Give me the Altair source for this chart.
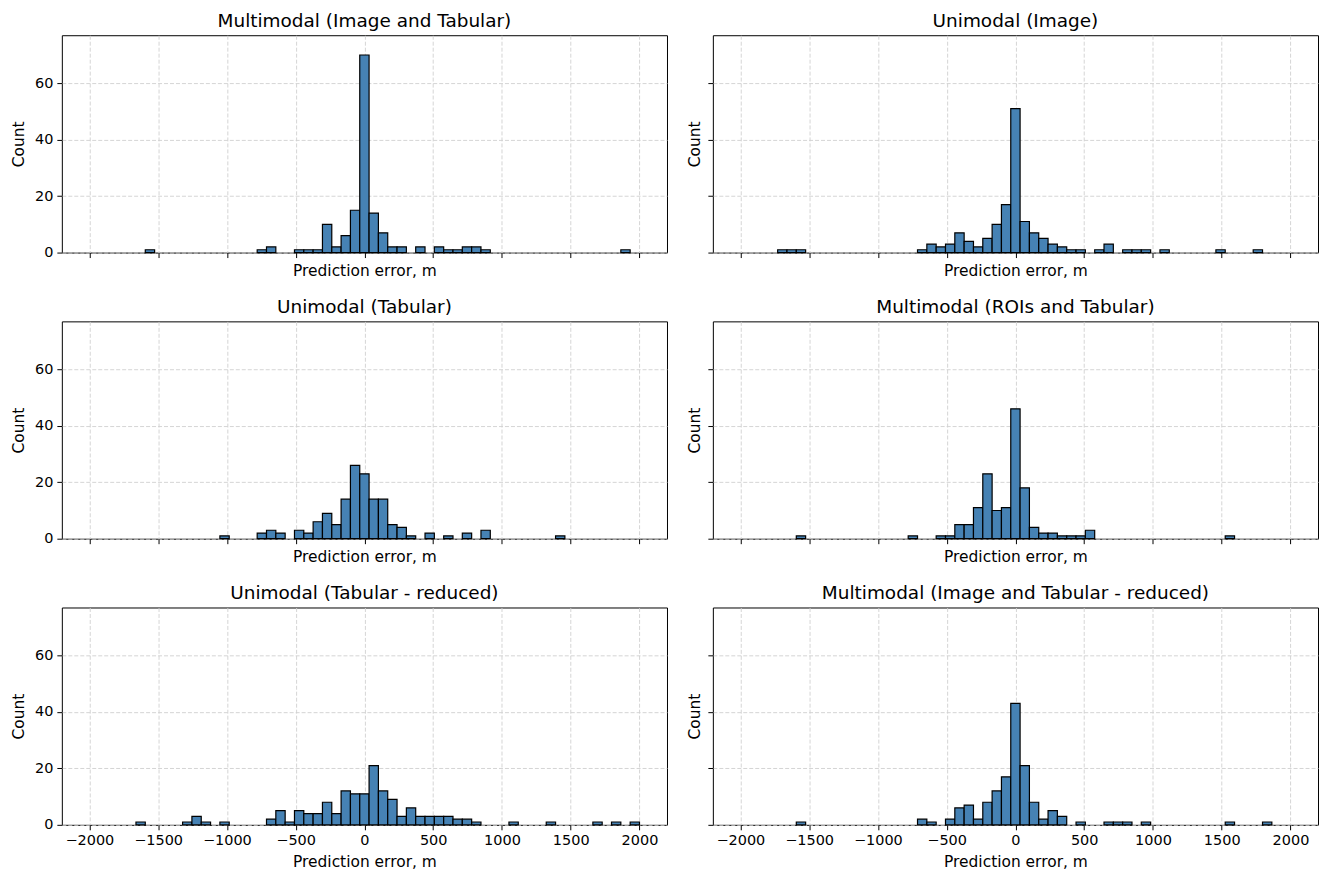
import altair as alt
import pandas as pd

# Histogram binning shared by all panels: 59 equal bins over [-2000, 2000] m
N_BINS = 59
X_MIN, X_MAX = -2000, 2000
CENTER = 29  # index of the bin centred on 0 m
X_TICKS = [-2000, -1500, -1000, -500, 0, 500, 1000, 1500, 2000]
Y_TICKS = [0, 20, 40, 60]

TITLES = [
    "Multimodal (Image and Tabular)",
    "Unimodal (Image)",
    "Unimodal (Tabular)",
    "Multimodal (ROIs and Tabular)",
    "Unimodal (Tabular - reduced)",
    "Multimodal (Image and Tabular - reduced)",
]

# bin offsets relative to the centre bin, and the counts in those bins
P1_BINS = [-23, -11, -10, -7, -6, -5, -4, -3, -2, -1, 0, 1, 2, 3, 4, 6, 8, 9, 10, 11, 12, 13, 28]
P1_COUNTS = [1, 1, 2, 1, 1, 1, 10, 2, 6, 15, 70, 14, 7, 2, 2, 2, 2, 1, 1, 2, 2, 1, 1]

P2_BINS = [-25, -24, -23, -10, -9, -8, -7, -6, -5, -4, -3, -2, -1, 0, 1, 2, 3, 4, 5, 6, 7, 9, 10, 12, 13, 14, 16, 22, 26]
P2_COUNTS = [1, 1, 1, 1, 3, 2, 3, 7, 4, 2, 5, 10, 17, 51, 11, 7, 5, 3, 2, 1, 1, 1, 3, 1, 1, 1, 1, 1, 1]

P3_BINS = [-15, -11, -10, -9, -7, -6, -5, -4, -3, -2, -1, 0, 1, 2, 3, 4, 5, 7, 9, 11, 13, 21]
P3_COUNTS = [1, 2, 3, 2, 3, 2, 6, 9, 5, 14, 26, 23, 14, 14, 5, 4, 1, 2, 1, 2, 3, 1]

P4_BINS = [-23, -11, -8, -7, -6, -5, -4, -3, -2, -1, 0, 1, 2, 3, 4, 5, 6, 7, 8, 23]
P4_COUNTS = [1, 1, 1, 1, 5, 5, 11, 23, 10, 11, 46, 18, 4, 2, 2, 1, 1, 1, 3, 1]

P5_BINS = [-24, -19, -18, -17, -15, -10, -9, -8, -7, -6, -5, -4, -3, -2, -1, 0, 1, 2, 3, 4, 5, 6, 7, 8, 9, 10, 11, 12, 16, 20, 25, 27, 29]
P5_COUNTS = [1, 1, 3, 1, 1, 2, 5, 1, 5, 4, 4, 8, 4, 12, 11, 11, 21, 12, 9, 3, 6, 3, 3, 3, 3, 2, 2, 1, 1, 1, 1, 1, 1]

P6_BINS = [-23, -10, -9, -7, -6, -5, -4, -3, -2, -1, 0, 1, 2, 3, 4, 5, 7, 10, 11, 12, 14, 23, 27]
P6_COUNTS = [1, 2, 1, 2, 6, 7, 2, 8, 12, 17, 43, 21, 8, 2, 5, 3, 1, 1, 1, 1, 1, 1, 1]

BIN_W = (X_MAX - X_MIN) / N_BINS
FONT = "DejaVu Sans"
W, H = 607, 218


def panel(title, bins, counts, bottom, left):
    lo = [X_MIN + (b + CENTER) * BIN_W for b in bins]
    df = pd.DataFrame({"lo": lo, "hi": [v + BIN_W for v in lo], "count": counts})
    xaxis = alt.Axis(
        values=X_TICKS, labels=bottom, title="Prediction error, m",
        titlePadding=7 if bottom else 5, format="d",
    )
    yaxis = alt.Axis(
        values=Y_TICKS, labels=left, title="Count",
        titlePadding=8 if left else 5,
    )
    return (
        alt.Chart(df)
        .mark_bar(color="#4682B4", stroke="black", strokeWidth=1.2)
        .encode(
            x=alt.X("lo:Q", scale=alt.Scale(domain=[-2200, 2200], nice=False, zero=False), axis=xaxis),
            x2="hi:Q",
            y=alt.Y("count:Q", scale=alt.Scale(domain=[0, 77], nice=False), axis=yaxis, stack=None),
            y2=alt.datum(0),
        )
        .properties(
            width=W, height=H,
            title=alt.TitleParams(title, fontSize=18.5, font=FONT, fontWeight="normal", offset=5, color="black"),
        )
    )


data = [
    (P1_BINS, P1_COUNTS), (P2_BINS, P2_COUNTS),
    (P3_BINS, P3_COUNTS), (P4_BINS, P4_COUNTS),
    (P5_BINS, P5_COUNTS), (P6_BINS, P6_COUNTS),
]
charts = []
for i, (b, c) in enumerate(data):
    row, col = divmod(i, 2)
    charts.append(panel(TITLES[i], b, c, bottom=(row == 2), left=(col == 0)))

rows = [alt.hconcat(charts[2 * r], charts[2 * r + 1], spacing=19) for r in range(3)]
chart = (
    alt.vconcat(*rows, spacing=18)
    .properties(padding={"left": 3, "top": 2, "right": 0, "bottom": 0})
    .configure(font=FONT)
    .configure_view(stroke="black", strokeWidth=1)
    .configure_axis(
        domain=False, grid=True, gridColor="#d0d0d0", gridDash=[4, 2], gridWidth=0.9,
        ticks=True, tickColor="black", tickSize=5, tickWidth=1,
        labelFont=FONT, labelFontSize=14.5, labelColor="black", labelPadding=4,
        titleFont=FONT, titleFontSize=15.5, titleFontWeight="normal", titleColor="black",
    )
)

chart.save("out.html", embed_options={"renderer": "svg", "actions": False})
